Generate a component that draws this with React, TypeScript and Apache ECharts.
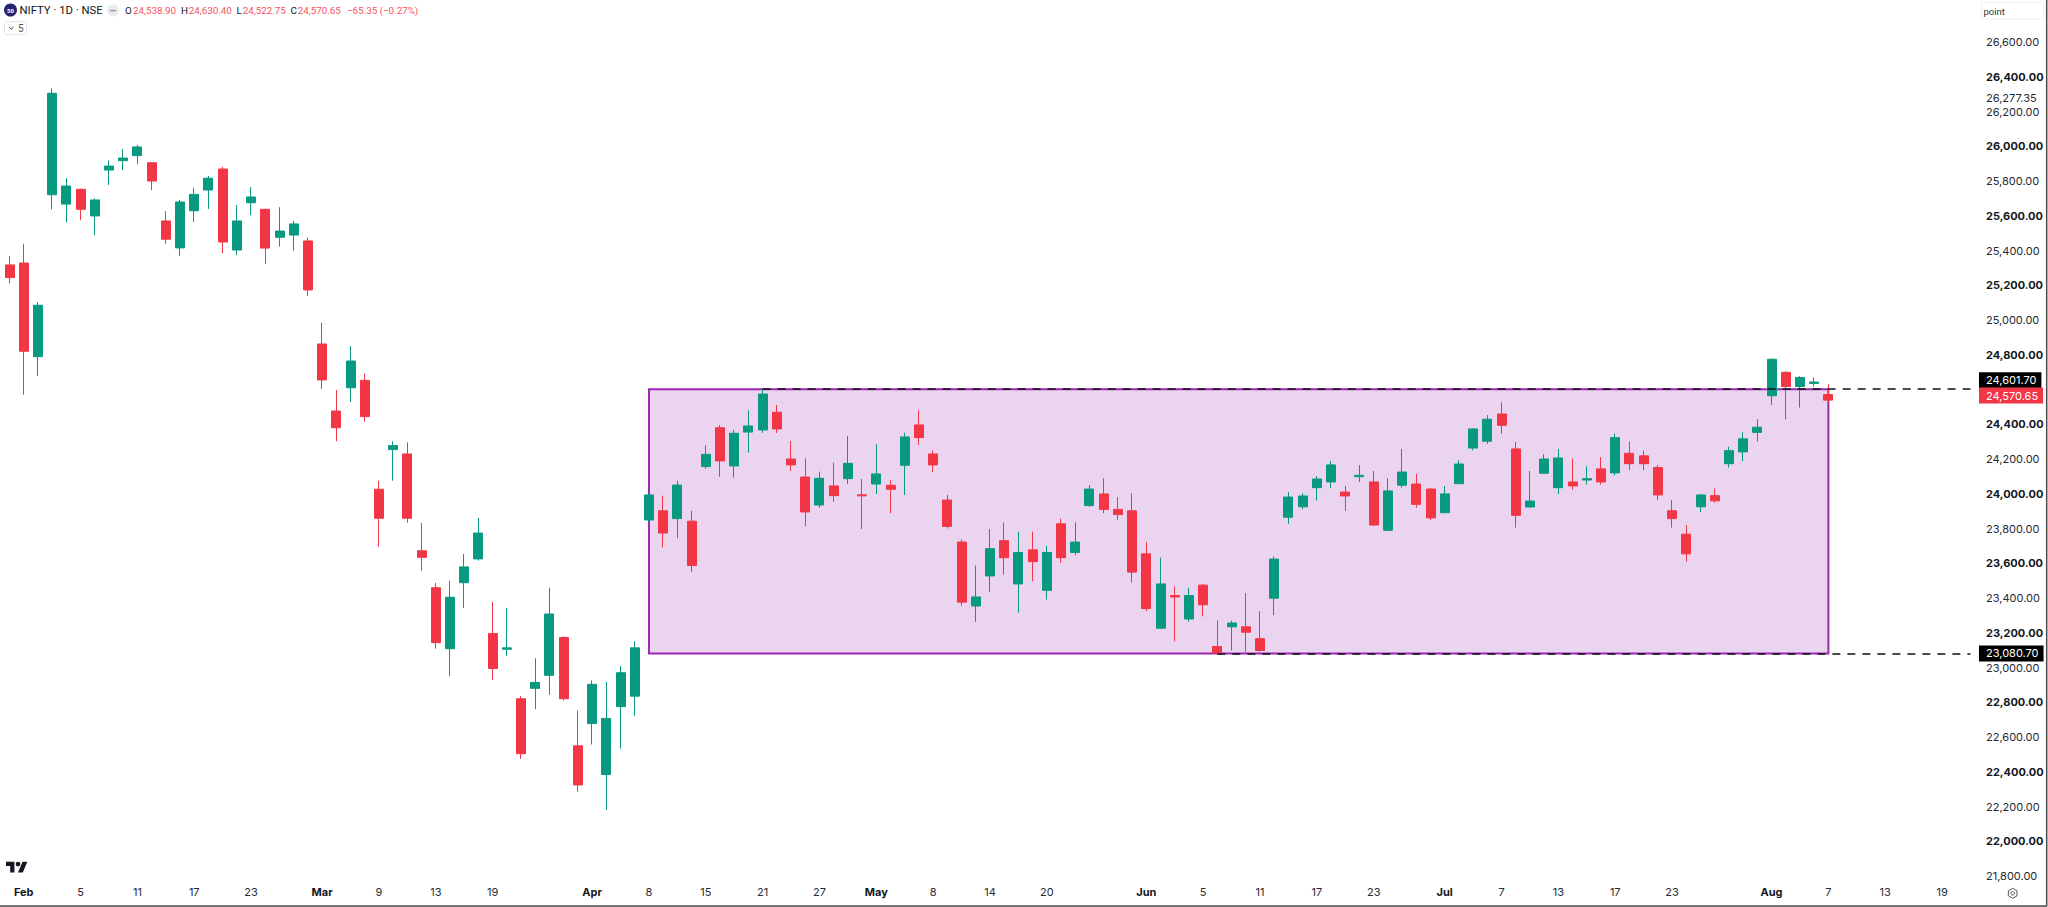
import React, { useEffect, useRef } from "react";
import * as echarts from "echarts";

// ---- data ----
const opens = [
  25334,25317,25328,24789,25721,25667,25752,25599,25863,25917,
  25946,25905,25570,25415,25629,25748,25869,25403,25675,25637,
  25476,25489,25455,24862,24476,24610,24653,24026,24254,24229,
  23672,23459,23108,23488,23625,23195,23105,22820,22880,22955,
  23173,22549,22677,22384,22775,22835,23849,23902,23857,23842,
  24156,24380,24160,24355,24367,24469,24200,24096,23935,24045,
  24087,23994,24056,24049,24164,24396,24229,23964,23722,23354,
  23527,23730,23481,23677,23444,23827,23662,23932,23999,23910,
  23902,23654,23226,23414,23279,23474,23121,23234,23234,23166,
  23399,23865,23925,24035,24068,24010,24098,24068,23790,24049,
  24056,24027,23891,24058,24263,24302,24459,24258,23924,24118,
  24035,24068,24079,24143,24120,24233,24218,24151,23902,23767,
  23925,23989,24173,24241,24353,24564,24699,24617,24635,24570.65,
];
const closes = [
  25415,25244,24820,25085,26305,25771,25637,25691,25886,25932,
  25996,25800,25465,25679,25723,25816,25449,25570,25708,25414,
  25512,25553,25173,24655,24380,24764,24444,23859,24277,23859,
  23634,23143,23404,23579,23774,22994,23113,22504,22914,23308,
  22820,22324,22903,22707,22970,23113,23993,23774,24050,23587,
  24227,24189,24348,24390,24574,24373,24166,23895,24089,23989,
  24175,23988,24114,24026,24327,24323,24166,23812,23376,23406,
  23684,23632,23662,23609,23662,23632,23722,24027,23910,23880,
  23549,23339,23481,23406,23414,23361,23083,23256,23203,23098,
  23624,23981,23987,24085,24166,23987,24106,23820,24016,24125,
  23939,23861,23999,24171,24373,24429,24394,23876,23958,24200,
  24206,24045,24087,24068,24323,24173,24173,23993,23857,23654,
  23993,23959,24248,24316,24383,24774,24617,24669,24643,24538.9,
];
const highs = [
  25440,25368,25438,25102,26333,25816,25756,25700,25919,25984,
  26007,25908,25627,25691,25761,25829,25881,25662,25765,25640,
  25649,25570,25474,24985,24597,24850,24693,24075,24302,24296,
  23832,23487,23498,23653,23861,23377,23343,22835,23053,23459,
  23180,22752,22925,22918,23008,23151,24000,23989,24074,23902,
  24279,24396,24367,24480,24602,24511,24304,24204,24127,24179,
  24332,24085,24287,24078,24351,24480,24250,23993,23737,23587,
  23797,23835,23782,23782,23700,23857,23835,24050,24089,23981,
  24003,23722,23632,23466,23459,23480,23271,23271,23429,23324,
  23639,24010,24003,24102,24189,24045,24165,24131,24089,24258,
  24114,24033,24045,24193,24377,24453,24526,24298,24131,24227,
  24258,24203,24158,24211,24346,24301,24248,24166,23963,23820,
  24000,24030,24271,24354,24429,24780,24705,24677,24669,24630.4,
];
const lows = [
  25300,25211,24570,24678,25637,25562,25575,25489,25777,25863,
  25898,25748,25438,25368,25564,25639,25384,25374,25604,25322,
  25422,25399,25138,24603,24302,24528,24415,23695,24075,23833,
  23557,23108,22951,23343,23615,22928,23066,22474,22760,22842,
  22810,22286,22557,22181,22534,22722,23840,23692,23744,23549,
  24143,24098,24093,24236,24351,24350,24131,23812,23920,23953,
  24056,23797,23999,23888,23993,24281,24124,23800,23354,23263,
  23436,23534,23316,23497,23391,23602,23647,23925,23888,23850,
  23489,23324,23220,23151,23264,23294,23081,23098,23091,23091,
  23301,23827,23910,23960,24033,23901,24068,23815,23785,24035,
  23920,23849,23888,24055,24250,24287,24346,23805,23920,24115,
  23999,24023,24053,24053,24105,24135,24135,23963,23805,23609,
  23895,23948,24151,24188,24301,24511,24429,24496,24617,24522.75,
];

const tickIndexes = [2,6,10,14,18,23,27,31,35,42,46,50,54,58,62,66,70,74,81,85,89,93,97,102,106,110,114,118,125,129,133,137];
const tickLabels = ["Feb","5","11","17","23","Mar","9","13","19","Apr","8","15","21","27","May","8","14","20","Jun","5","11","17","23","Jul","7","13","17","23","Aug","7","13","19"];
const monthNames = ["Feb","Mar","Apr","May","Jun","Jul","Aug"];
const slotCount = 144;

const rangeTop = 24601.7;
const rangeBottom = 23080.7;
const rangeStartIndex = 46;
const rangeEndIndex = 129;
const topLineStartIndex = 54;
const bottomLineStartIndex = 86;
const labelSlot = 139;
const lastClose = 24570.65;
const otherLevel = 26277.35;

const legendTitle = "NIFTY · 1D · NSE";
const legendLetters = ["O", "H", "L", "C"];
const legendValues = ["24,538.90", "24,630.40", "24,522.75", "24,570.65"];
const legendChange = "−65.35 (−0.27%)";

// ---- colours ----
const UP = "#089981";
const DOWN = "#F23645";
const INK = "#131722";
const FONT = "Inter, 'Noto Sans', sans-serif";
const HEAD_FONT = "Roboto, 'Noto Sans', sans-serif";

const fmt = (v: number) =>
  v.toLocaleString("en-US", { minimumFractionDigits: 2, maximumFractionDigits: 2 });

echarts.graphic.registerShape(
  "tvlogo",
  echarts.graphic.extendPath(
    "M14 25H7V14H0V7h14v18zM28 25h-8l7.5-18h8L28 25zM24 11a4 4 0 1 1-8 0a4 4 0 1 1 8 0z",
    {}
  )
);

function buildGraphic() {
  const els: any[] = [];
  const text = (x: number, y: number, t: string, fill: string, size: number, weight = 400) => ({
    type: "text",
    x,
    y,
    z: 50,
    silent: true,
    style: { text: t, fill, font: `${weight} ${size}px ${HEAD_FONT}`, verticalAlign: "middle", align: "left" },
  });

  // frame
  els.push({
    type: "polyline",
    z: 40,
    silent: true,
    shape: { points: [[2046.7, 0], [2046.7, 906], [0, 906]] },
    style: { stroke: "#4a4a4a", lineWidth: 1.5, fill: "none" },
  });

  // header
  els.push({ type: "circle", z: 50, shape: { cx: 10.5, cy: 10, r: 6.5 }, style: { fill: "#24256e" } });
  els.push({
    type: "text", x: 10.5, y: 10, z: 51,
    style: { text: "50", fill: "#ffffff", font: `700 6px ${HEAD_FONT}`, align: "center", verticalAlign: "middle" },
  });
  els.push(text(19.5, 10.5, legendTitle, INK, 11.3));
  els.push({ type: "circle", z: 50, shape: { cx: 113, cy: 10.5, r: 6 }, style: { fill: "#ececee" } });
  els.push({ type: "rect", z: 51, shape: { x: 110, y: 9.8, width: 6, height: 1.6 }, style: { fill: "#9a9ca3" } });
  const letterX = [125, 181, 236.5, 290.5];
  const valueX = [133, 188.7, 242.7, 297.7];
  legendLetters.forEach((l, i) => {
    els.push(text(letterX[i], 10.5, l, INK, 9.8));
    els.push(text(valueX[i], 10.5, legendValues[i], "#F7525F", 9.8));
  });
  els.push(text(347, 10.5, legendChange, "#F7525F", 9.8));

  // indicator toggle
  els.push({
    type: "rect", z: 50,
    shape: { x: 4.5, y: 21.7, width: 22, height: 13, r: 2 },
    style: { fill: "#ffffff", stroke: "#e0e3eb", lineWidth: 1 },
  });
  els.push({
    type: "polyline", z: 51,
    shape: { points: [[9, 27], [11.2, 29.3], [13.5, 27]] },
    style: { stroke: "#444", lineWidth: 1, fill: "none" },
  });
  els.push(text(18, 28.5, "5", "#555", 10));

  // scale mode box
  els.push({
    type: "rect", z: 50,
    shape: { x: 1981.3, y: 2.7, width: 62.5, height: 16.5, r: 2 },
    style: { fill: "#ffffff", stroke: "#eeeef1", lineWidth: 1 },
  });
  els.push(text(1983.5, 11, "point", "#333", 9.5));

  // logo
  els.push({
    type: "tvlogo", x: 6, y: 857.5, scaleX: 0.6, scaleY: 0.6, z: 50,
    style: { fill: INK },
  });

  // settings icon
  const hex: number[][] = [];
  for (let a = 0; a < 6; a++) {
    hex.push([2012.7 + 5 * Math.sin((a * Math.PI) / 3), 893.3 + 5 * Math.cos((a * Math.PI) / 3)]);
  }
  els.push({ type: "polygon", z: 50, shape: { points: hex }, style: { fill: "none", stroke: "#555", lineWidth: 1 } });
  els.push({ type: "circle", z: 50, shape: { cx: 2012.7, cy: 893.3, r: 1.8 }, style: { fill: "none", stroke: "#555", lineWidth: 1 } });
  return els;
}

export default function App() {
  const ref = useRef<HTMLDivElement>(null);
  useEffect(() => {
    if (!ref.current) return;
    const chart = echarts.init(ref.current, undefined, { renderer: "svg" });

    const categories: string[] = Array.from({ length: slotCount }, () => "");
    tickIndexes.forEach((ix, i) => {
      categories[ix] = tickLabels[i];
    });
    const candles = opens.map((o, i) => [o, closes[i], lows[i], highs[i]]);
    const band = 14.21;
    const gridLeft = -4.7 - band / 2;
    const gridRight = gridLeft + band * slotCount;

    const boxLabel = (value: number, bg: string, dy: number) => ({
      value: [labelSlot, value],
      label: {
        show: true,
        position: "right",
        distance: 8,
        offset: [0, dy],
        formatter: fmt(value),
        color: "#ffffff",
        fontFamily: FONT,
        fontSize: 11,
        backgroundColor: bg,
        padding: [1.5, 5, 1.5, 7],
        lineHeight: 13,
      },
    });

    chart.setOption({
      animation: false,
      backgroundColor: "#ffffff",
      textStyle: { fontFamily: FONT },
      grid: {
        left: gridLeft,
        top: 7.25,
        width: band * slotCount,
        height: 868.75,
        containLabel: false,
        outerBoundsMode: "none",
      },
      xAxis: {
        type: "category",
        data: categories,
        boundaryGap: true,
        position: "bottom",
        offset: 30,
        axisLine: { show: false },
        axisTick: { show: false },
        splitLine: { show: false },
        axisLabel: {
          show: true,
          inside: true,
          interval: 0,
          margin: 9,
          hideOverlap: false,
          formatter: (v: string) =>
            !v ? "" : monthNames.includes(v) ? `{b|${v}}` : `{n|${v}}`,
          rich: {
            b: { fontFamily: FONT, fontSize: 11, fontWeight: 700, color: INK },
            n: { fontFamily: FONT, fontSize: 11, fontWeight: 400, color: "#262a33" },
          },
        },
      },
      yAxis: {
        type: "value",
        position: "right",
        offset: 2046.7 - gridRight,
        min: 21800,
        max: 26800,
        interval: 200,
        scale: true,
        axisLine: { show: false },
        axisTick: { show: false },
        splitLine: { show: false },
        axisLabel: {
          show: true,
          inside: true,
          margin: 60.7,
          align: "left",
          showMinLabel: true,
          showMaxLabel: false,
          formatter: (v: number) => {
            if (v === 24600 || v === 26800) return "";
            return v % 400 === 0 ? `{b|${fmt(v)}}` : `{n|${fmt(v)}}`;
          },
          rich: {
            b: { fontFamily: FONT, fontSize: 11, fontWeight: 700, color: INK },
            n: { fontFamily: FONT, fontSize: 11, fontWeight: 400, color: "#262a33" },
          },
        },
      },
      series: [
        {
          type: "candlestick",
          data: candles,
          barWidth: 9.5,
          clip: true,
          itemStyle: {
            color: UP,
            color0: DOWN,
            borderColor: UP,
            borderColor0: DOWN,
            borderWidth: 1,
          },
          markArea: {
            silent: true,
            itemStyle: { color: "rgba(156,39,176,0.2)", borderColor: "#9C27B0", borderWidth: 2, opacity: 1 },
            data: [[
              { coord: [rangeStartIndex, rangeTop] },
              { coord: [rangeEndIndex, rangeBottom] },
            ]],
          },
          markLine: {
            silent: true,
            symbol: "none",
            label: { show: false },
            lineStyle: { color: "#111111", type: [8, 7], width: 1.5, opacity: 1 },
            data: [
              [{ coord: [topLineStartIndex, rangeTop] }, { coord: [labelSlot, rangeTop] }],
              [{ coord: [bottomLineStartIndex, rangeBottom] }, { coord: [labelSlot, rangeBottom] }],
            ],
          },
        },
        {
          type: "scatter",
          symbolSize: 1,
          silent: true,
          clip: false,
          z: 20,
          itemStyle: { color: "transparent", opacity: 1 },
          data: [
            boxLabel(rangeTop, "#000000", -9),
            boxLabel(lastClose, DOWN, 1),
            boxLabel(rangeBottom, "#000000", 0),
            {
              value: [labelSlot, otherLevel],
              label: {
                show: true,
                position: "right",
                distance: 15,
                formatter: fmt(otherLevel),
                color: "#262a33",
                fontFamily: FONT,
                fontSize: 11,
              },
            },
          ],
        },
      ],
      graphic: { elements: buildGraphic() },
    });
    return () => chart.dispose();
  }, []);
  return (
    <div
      ref={ref}
      style={{ position: "fixed", left: 0, top: 0, width: 2048, height: 907, background: "#fff" }}
    />
  );
}
